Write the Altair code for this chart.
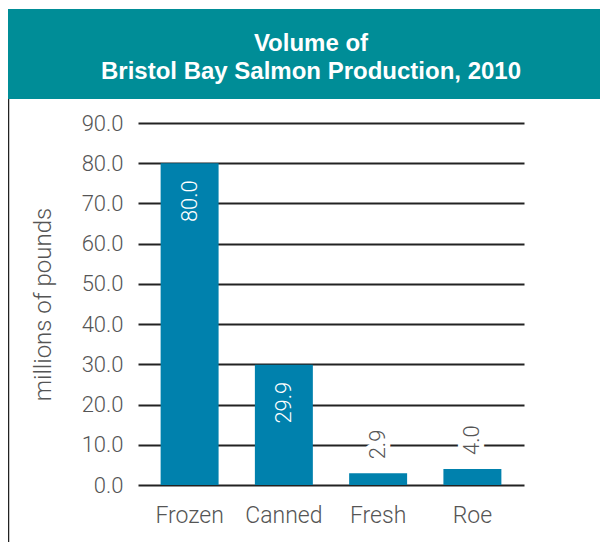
import altair as alt
import pandas as pd

categories = ["Frozen", "Canned", "Fresh", "Roe"]
values = [80.0, 29.9, 2.9, 4.0]
title_lines = ["Volume of", "Bristol Bay Salmon Production, 2010"]
y_title = "millions of pounds"

df = pd.DataFrame({"product": categories, "volume": values})
one = pd.DataFrame({"k": [0]})

FONT = "Roboto"
TFONT = "Liberation Sans"
GRAY = "#555555"
BAR = "#0081AD"
TEAL = "#008D97"

x_enc = alt.X("product:N", sort=categories, title=None,
              scale=alt.Scale(paddingInner=0.385, paddingOuter=0.24),
              axis=alt.Axis(labelAngle=0, labelFont=FONT, labelFontWeight=300,
                            labelFontSize=23, labelColor=GRAY, labelPadding=19,
                            ticks=False, domain=False))
y_enc = alt.Y("volume:Q", title=y_title,
              scale=alt.Scale(domain=[0, 90], nice=False),
              axis=alt.Axis(values=list(range(0, 100, 10)), format=".1f",
                            labelFont=FONT, labelFontWeight=300, labelFontSize=22,
                            labelColor=GRAY, labelPadding=15, ticks=False, domain=False,
                            grid=True, gridColor="#222222", gridWidth=2, gridOpacity=1,
                            titleFont=FONT, titleFontWeight=300, titleFontSize=24,
                            titleColor=GRAY, titlePadding=26))

band = alt.Chart(one).mark_rect(color=TEAL).encode(
    x=alt.value(-130), x2=alt.value(470), y=alt.value(-114), y2=alt.value(-24))
border = alt.Chart(one).mark_rule(color="#222222", strokeWidth=1.5).encode(
    x=alt.value(-129.5), y=alt.value(-24), y2=alt.value(420))

title_layers = [
    alt.Chart(one).mark_text(font=TFONT, fontWeight="bold", fontSize=24, color="white",
                             align="center", baseline="alphabetic").encode(
        x=alt.value(173), y=alt.value(-72 + 28 * i), text=alt.value(line))
    for i, line in enumerate(title_lines)
]

bars = alt.Chart(df).mark_bar(color=BAR).encode(x=x_enc, y=y_enc)

inside = alt.Chart(df).transform_filter("datum.volume > 10").mark_text(
    angle=270, align="right", baseline="middle", dx=-17, font=FONT,
    fontWeight=300, fontSize=22, color="white").encode(
    x=alt.X("product:N", sort=categories), y="volume:Q",
    text=alt.Text("volume:Q", format=".1f"))

halo = alt.Chart(df).transform_filter("datum.volume <= 10").mark_text(
    angle=270, align="left", baseline="middle", dx=14, font=FONT,
    fontWeight=300, fontSize=22, color="white", stroke="white", strokeWidth=10).encode(
    x=alt.X("product:N", sort=categories), y="volume:Q",
    text=alt.Text("volume:Q", format=".1f"))

outside = alt.Chart(df).transform_filter("datum.volume <= 10").mark_text(
    angle=270, align="left", baseline="middle", dx=14, font=FONT,
    fontWeight=300, fontSize=22, color=GRAY).encode(
    x=alt.X("product:N", sort=categories), y="volume:Q",
    text=alt.Text("volume:Q", format=".1f"))

chart = alt.layer(band, border, *title_layers, bars, inside, halo, outside).properties(
    width=386, height=362,
    autosize=alt.AutoSizeParams(type="none"),
    padding={"left": 130, "top": 115, "right": 76, "bottom": 57},
).configure_view(stroke=None)

chart.save("out.html", embed_options={"renderer": "svg", "actions": False})
